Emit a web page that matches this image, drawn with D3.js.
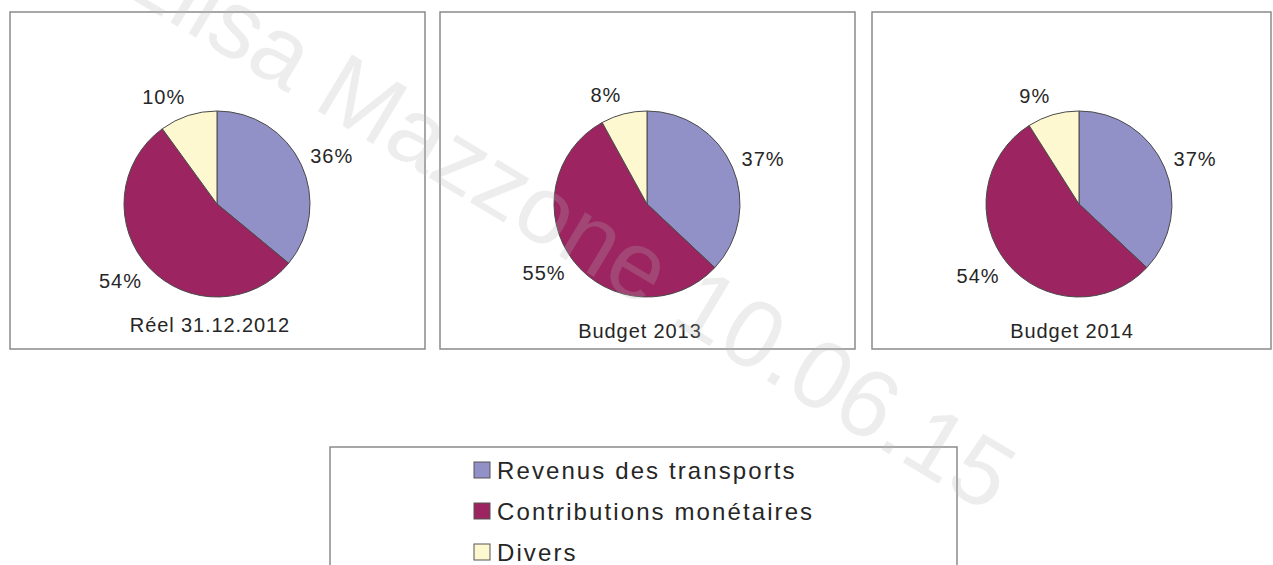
<!DOCTYPE html>
<html>
<head>
<meta charset="utf-8">
<script src="https://cdn.jsdelivr.net/npm/d3@7"></script>
<style>
body { margin: 0; background: #fff; }
text { font-family: "Liberation Sans", Arial, Helvetica, sans-serif; }
</style>
</head>
<body>
<script>
var w = 1273;
var h = 565;

// data
var categories = ["Revenus des transports", "Contributions monétaires", "Divers"];
var periods = ["Réel 31.12.2012", "Budget 2013", "Budget 2014"];
var revenus = [36, 37, 37];
var contributions = [54, 55, 54];
var divers = [10, 8, 9];
var colors = ["#9191c8", "#9c2460", "#fdf8cf"];
var watermark = "Elisa Mazzone 10.06.15";

var svg = d3.select("body")
    .append("svg")
    .attr("width", w)
    .attr("height", h);

var panelX = d3.scaleOrdinal().domain(periods).range([10, 440, 872]);
var panelW = [415, 415, 399];
var panelTop = 12, panelH = 337;
var r = 93;

var pie = d3.pie().sort(null).value(function(d) { return d.v; });
var arc = d3.arc().innerRadius(0).outerRadius(r);

periods.forEach(function(p, i) {
    var x0 = panelX(p);
    var g = svg.append("g").attr("transform", "translate(" + x0 + "," + panelTop + ")");

    g.append("rect")
        .attr("x", 0).attr("y", 0)
        .attr("width", panelW[i]).attr("height", panelH)
        .attr("fill", "none")
        .attr("stroke", "#8a8a8a")
        .attr("stroke-width", 1.5);

    var data = [
        {k: categories[0], v: revenus[i]},
        {k: categories[1], v: contributions[i]},
        {k: categories[2], v: divers[i]}
    ];
    var pg = g.append("g").attr("transform", "translate(207,192)");
    var arcs = pie(data);

    pg.selectAll("path")
        .data(arcs)
        .enter().append("path")
        .attr("d", arc)
        .attr("fill", function(d, j) { return colors[j]; })
        .attr("stroke", "#4a4a4a")
        .attr("stroke-width", 1);

    // labels outside the slices
    pg.selectAll("text.lbl")
        .data(arcs)
        .enter().append("text")
        .attr("class", "lbl")
        .each(function(d) {
            var a = (d.startAngle + d.endAngle) / 2;
            var sx = Math.sin(a), cy = -Math.cos(a);
            var t = d3.select(this);
            t.text(d.value + "%")
                .attr("x", sx * (r + 10))
                .attr("y", cy * (r + 10) + cy * 10 + 7)
                .attr("text-anchor", sx >= 0 ? "start" : "end")
                .attr("font-size", 20)
                .attr("letter-spacing", 1)
                .attr("fill", "#262626");
        });

    g.append("text")
        .attr("x", 200)
        .attr("y", i == 0 ? 320 : 326)
        .attr("text-anchor", "middle")
        .attr("font-size", 20)
        .attr("letter-spacing", 0.9)
        .attr("fill", "#262626")
        .text(p);
});

// legend
var leg = svg.append("g");
leg.append("rect")
    .attr("x", 330).attr("y", 447)
    .attr("width", 627).attr("height", 140)
    .attr("fill", "none")
    .attr("stroke", "#8a8a8a")
    .attr("stroke-width", 1.5);

var rowY = d3.scalePoint().domain(categories).range([470, 552]);

leg.selectAll("rect.sw")
    .data(categories)
    .enter().append("rect")
    .attr("class", "sw")
    .attr("x", 474)
    .attr("y", function(d) { return rowY(d) - 8; })
    .attr("width", 16).attr("height", 16)
    .attr("fill", function(d, i) { return colors[i]; })
    .attr("stroke", "#555")
    .attr("stroke-width", 1);

leg.selectAll("text.lt")
    .data(categories)
    .enter().append("text")
    .attr("class", "lt")
    .attr("x", 497)
    .attr("y", function(d) { return rowY(d) + 8.5; })
    .attr("font-size", 24)
    .attr("letter-spacing", 2.1)
    .attr("fill", "#262626")
    .text(function(d) { return d; });

// watermark
svg.append("text")
    .attr("transform", "translate(110,-14) rotate(31)")
    .attr("font-size", 96)
    .attr("fill", "#b8b8b8")
    .attr("opacity", 0.24)
    .text(watermark);
</script>
</body>
</html>
